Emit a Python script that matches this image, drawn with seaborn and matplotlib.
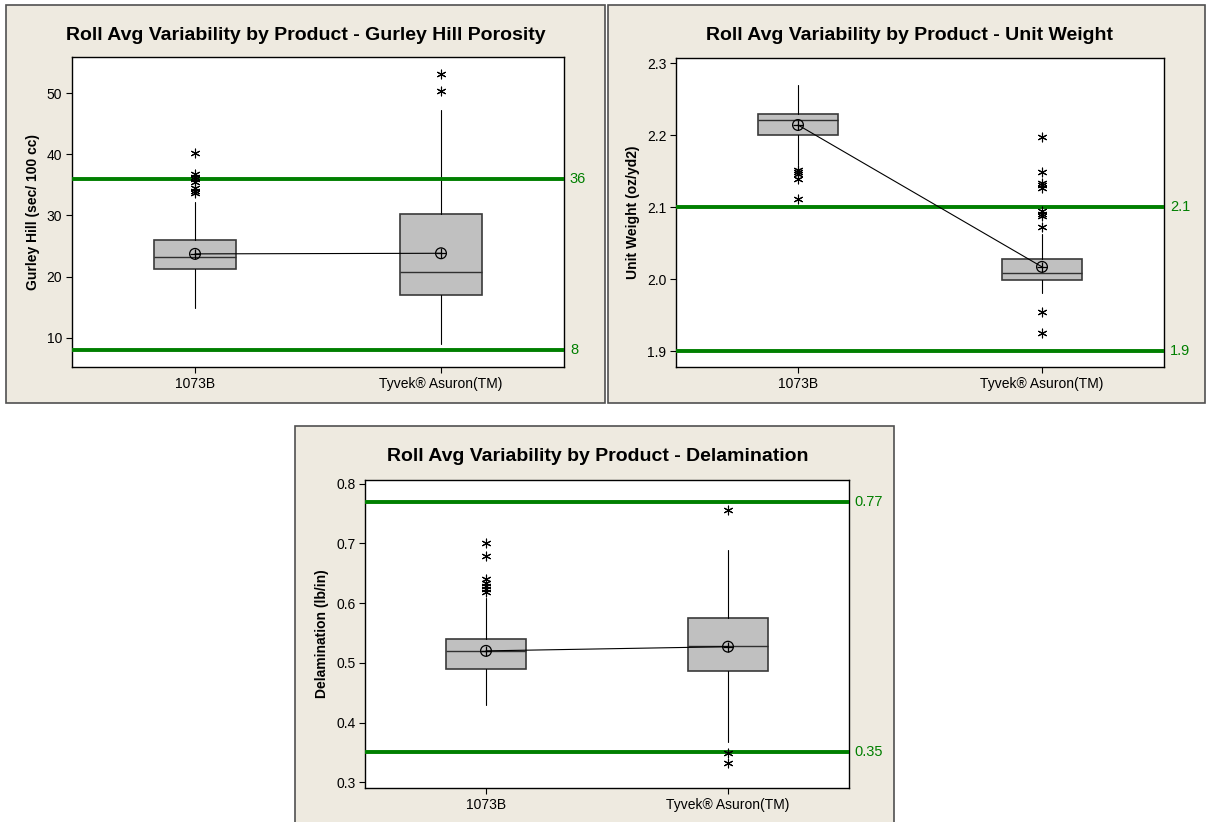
import matplotlib
matplotlib.use("Agg")
import matplotlib.pyplot as plt
from matplotlib.patches import Rectangle
from matplotlib.ticker import FormatStrFormatter
import seaborn as sns
import numpy as np

sns.set_theme(style="white")
plt.rcParams['font.family'] = ['Liberation Sans', 'DejaVu Sans']
plt.rcParams['text.color'] = 'black'
plt.rcParams['axes.labelcolor'] = 'black'

products = ["1073B", "Tyvek® Asuron(TM)"]

# Gurley Hill Porosity
gurley_q1 = [21.2, 17.0]
gurley_med = [23.2, 20.8]
gurley_q3 = [26.0, 30.3]
gurley_wlo = [14.8, 9.0]
gurley_whi = [32.2, 47.2]
gurley_mean = [23.7, 23.8]
gurley_out = [[40.2, 36.8, 36.3, 35.9, 35.5, 34.4, 34.0, 33.7], [53.2, 50.4]]
gurley_limits = [8, 36]

# Unit Weight
weight_q1 = [2.200, 1.999]
weight_med = [2.221, 2.009]
weight_q3 = [2.229, 2.028]
weight_wlo = [2.159, 1.981]
weight_whi = [2.270, 2.062]
weight_mean = [2.214, 2.017]
weight_out = [[2.152, 2.149, 2.146, 2.139, 2.111],
              [2.197, 2.149, 2.133, 2.130, 2.127, 2.094, 2.090, 2.087, 2.073, 1.954, 1.925]]
weight_limits = [1.9, 2.1]

# Delamination
delam_q1 = [0.490, 0.486]
delam_med = [0.5195, 0.529]
delam_q3 = [0.540, 0.575]
delam_wlo = [0.430, 0.368]
delam_whi = [0.609, 0.689]
delam_mean = [0.520, 0.527]
delam_out = [[0.700, 0.679, 0.640, 0.634, 0.628, 0.623, 0.618], [0.755, 0.349, 0.332]]
delam_limits = [0.35, 0.77]

W, H = 1206, 822
fig = plt.figure(figsize=(W / 100, H / 100), dpi=100)
fig.patch.set_facecolor("white")

BEIGE = "#EEEAE0"
GREEN = "#007F00"


def px_rect(x0, y0, x1, y1):
    return [x0 / W, 1 - y1 / H, (x1 - x0) / W, (y1 - y0) / H]


def frame(x0, y0, x1, y1):
    l, b, w, h = px_rect(x0, y0, x1, y1)
    fig.patches.append(Rectangle((l, b), w, h, transform=fig.transFigure,
                                 facecolor=BEIGE, edgecolor="#505050", lw=1.2, zorder=-10))


def panel(axrect, title, title_xy, ylabel, q1, med, q3, wlo, whi, mean, outs,
          limits, ylim, yticks, fmt, limfmt):
    ax = fig.add_axes(px_rect(*axrect))
    ax.set_zorder(1)
    ax.set_facecolor("white")
    stats = []
    for i in range(len(products)):
        stats.append(dict(med=med[i], q1=q1[i], q3=q3[i], whislo=wlo[i], whishi=whi[i],
                          fliers=[], label=products[i]))
    ax.bxp(stats, positions=list(range(len(products))), widths=0.33, patch_artist=True,
           showfliers=False, showcaps=False,
           boxprops=dict(facecolor="#C0C0C0", edgecolor="#3A3A3A", lw=1.2),
           medianprops=dict(color="#303030", lw=1.0),
           whiskerprops=dict(color="black", lw=0.8), zorder=2)
    for lim in limits:
        ax.axhline(lim, color=GREEN, lw=2.8, zorder=3)
        ax.text(1.012, lim, limfmt.format(lim), transform=ax.get_yaxis_transform(),
                color=GREEN, fontsize=10.5, va="center", ha="left")
    # outliers
    ox, oy = [], []
    for i, o in enumerate(outs):
        ox += [i] * len(o)
        oy += o
    sns.scatterplot(x=ox, y=oy, marker=(6, 2, 0), color="black", s=40, linewidth=0.8,
                    ax=ax, zorder=4, legend=False)
    # mean connect line and symbols
    xs = list(range(len(products)))
    sns.lineplot(x=xs, y=mean, color="black", lw=0.8, ax=ax, zorder=4, legend=False)
    ax.scatter(xs, mean, marker="o", s=60, facecolors="none", edgecolors="black",
               linewidths=0.9, zorder=5)
    ax.scatter(xs, mean, marker="+", s=60, color="black", linewidths=0.9, zorder=5)

    ax.set_xlim(-0.5, len(products) - 0.5)
    ax.set_ylim(*ylim)
    ax.set_yticks(yticks)
    ax.yaxis.set_major_formatter(FormatStrFormatter(fmt))
    ax.set_xticks(xs)
    ax.set_xticklabels(products)
    ax.tick_params(axis="both", which="major", direction="out", length=4, width=0.8,
                   colors="black", labelsize=10, left=True, bottom=True, pad=3)
    for s in ax.spines.values():
        s.set_color("black")
        s.set_linewidth(1.0)
    ax.set_ylabel(ylabel, fontsize=10, fontweight="bold", labelpad=5)
    ax.set_xlabel("")
    fig.text(title_xy[0] / W, 1 - title_xy[1] / H, title, ha="center", va="center",
             fontsize=14, fontweight="bold")
    return ax


frame(6, 5, 605, 403)
frame(608, 5, 1205, 403)
frame(295, 426, 894, 830)

panel((72, 57, 564, 367), "Roll Avg Variability by Product - Gurley Hill Porosity", (306, 35),
      "Gurley Hill (sec/ 100 cc)", gurley_q1, gurley_med, gurley_q3, gurley_wlo, gurley_whi,
      gurley_mean, gurley_out, gurley_limits, (5.2, 55.9), [10, 20, 30, 40, 50], "%d", "{:g}")

panel((676, 58, 1164, 367), "Roll Avg Variability by Product - Unit Weight", (909, 35),
      "Unit Weight (oz/yd2)", weight_q1, weight_med, weight_q3, weight_wlo, weight_whi,
      weight_mean, weight_out, weight_limits, (1.878, 2.307), [1.9, 2.0, 2.1, 2.2, 2.3], "%.1f", "{:g}")

panel((365, 480, 849, 788), "Roll Avg Variability by Product - Delamination", (598, 456),
      "Delamination (lb/in)", delam_q1, delam_med, delam_q3, delam_wlo, delam_whi,
      delam_mean, delam_out, delam_limits, (0.2905, 0.806), [0.3, 0.4, 0.5, 0.6, 0.7, 0.8], "%.1f", "{:g}")

fig.savefig("out.png", dpi=100, facecolor="white")
